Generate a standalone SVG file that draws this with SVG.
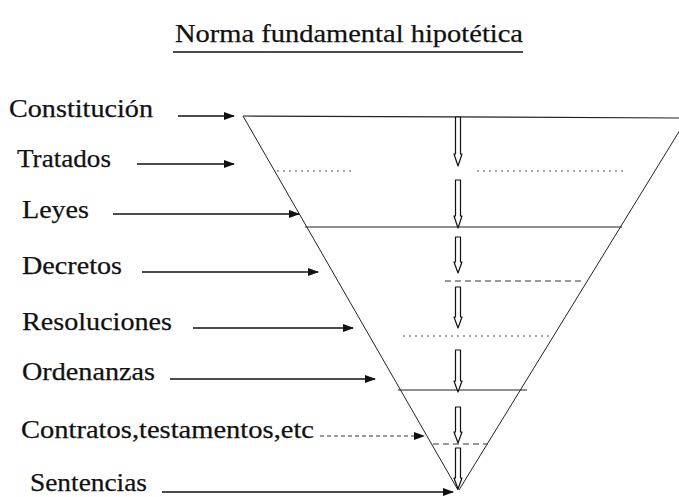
<svg xmlns="http://www.w3.org/2000/svg" width="679" height="497" viewBox="0 0 679 497">
<style>
text{font-family:"Liberation Serif","Times New Roman",serif;font-size:26px;fill:#111;stroke:#111;stroke-width:0.25}
.edge{stroke:#222;stroke-width:1;fill:none}
.lvl{stroke:#222;stroke-width:1.2;fill:none}
.dot{stroke:#555;stroke-width:1;fill:none;stroke-dasharray:2 4}
.dash{stroke:#333;stroke-width:1;fill:none;stroke-dasharray:6 4}
.ptr{stroke:#111;stroke-width:1.3;fill:none;marker-end:url(#ah)}
.ptrd{stroke:#333;stroke-width:1.1;fill:none;stroke-dasharray:4 3;marker-end:url(#ah)}
.blk{fill:#fff;stroke:#111;stroke-width:1.2;stroke-linejoin:round}
</style>
<defs>
<marker id="ah" markerUnits="userSpaceOnUse" markerWidth="11" markerHeight="8" refX="10" refY="4" orient="auto">
<path d="M0,0 L11,4 L0,8 Z" fill="#111"/>
</marker>
</defs>
<rect width="679" height="497" fill="#fff"/>
<g id="title">
<text x="175" y="42" textLength="348" lengthAdjust="spacingAndGlyphs">Norma fundamental hipotética</text>
<line x1="173" y1="52" x2="523" y2="52" stroke="#111" stroke-width="1.5"/>
</g>
<g id="pyramid">
<line class="lvl" x1="243" y1="116" x2="679" y2="118"/>
<line class="edge" x1="243" y1="116" x2="458" y2="490"/>
<line class="edge" x1="680" y1="130" x2="459" y2="490"/>
<line class="dot" x1="277" y1="171" x2="353" y2="171"/>
<line class="dot" x1="477" y1="171" x2="627" y2="171"/>
<line class="lvl" x1="305" y1="227" x2="622" y2="227"/>
<line class="dash" x1="445" y1="281" x2="584" y2="281"/>
<line class="dot" x1="403" y1="336" x2="550" y2="336"/>
<line class="lvl" x1="398" y1="390" x2="527" y2="390"/>
<line class="dash" x1="433" y1="444" x2="488" y2="444"/>
</g>
<g id="flow">
<path class="blk" d="M455.5,117 L460.5,117 L460.5,154 L462,154 L458,166 L454,154 L455.5,154 Z"/>
<path class="blk" d="M455.5,180 L460.5,180 L460.5,216 L462,216 L458,228 L454,216 L455.5,216 Z"/>
<path class="blk" d="M455.5,237 L460.5,237 L460.5,262 L462,262 L458,273 L454,262 L455.5,262 Z"/>
<path class="blk" d="M455.5,287 L460.5,287 L460.5,317 L462,317 L458,328 L454,317 L455.5,317 Z"/>
<path class="blk" d="M455.5,350 L460.5,350 L460.5,381 L462,381 L458,392 L454,381 L455.5,381 Z"/>
<path class="blk" d="M455.5,407 L460.5,407 L460.5,432 L462,432 L458,443 L454,432 L455.5,432 Z"/>
<path class="blk" d="M455.5,448 L460.5,448 L460.5,478 L462,478 L458,489 L454,478 L455.5,478 Z"/>
</g>
<g id="n-constitucion"><text x="9" y="117" textLength="144" lengthAdjust="spacingAndGlyphs">Constitución</text></g>
<g id="n-tratados"><text x="17" y="167" textLength="94" lengthAdjust="spacingAndGlyphs">Tratados</text></g>
<g id="n-leyes"><text x="22" y="218" textLength="67" lengthAdjust="spacingAndGlyphs">Leyes</text></g>
<g id="n-decretos"><text x="22" y="274" textLength="100" lengthAdjust="spacingAndGlyphs">Decretos</text></g>
<g id="n-resoluciones"><text x="22" y="330" textLength="150" lengthAdjust="spacingAndGlyphs">Resoluciones</text></g>
<g id="n-ordenanzas"><text x="22" y="380" textLength="133" lengthAdjust="spacingAndGlyphs">Ordenanzas</text></g>
<g id="n-contratos"><text x="21" y="438" textLength="293" lengthAdjust="spacingAndGlyphs">Contratos,testamentos,etc</text></g>
<g id="n-sentencias"><text x="30" y="491" textLength="117" lengthAdjust="spacingAndGlyphs">Sentencias</text></g>
<g id="connectors">
<line class="ptr" x1="178" y1="116" x2="234" y2="116"/>
<line class="ptr" x1="137" y1="164" x2="234" y2="164"/>
<line class="ptr" x1="113" y1="214" x2="299" y2="214"/>
<line class="ptr" x1="142" y1="272" x2="318" y2="272"/>
<line class="ptr" x1="193" y1="328" x2="353" y2="328"/>
<line class="ptr" x1="170" y1="379" x2="375" y2="379"/>
<line class="ptrd" x1="320" y1="436" x2="424" y2="436"/>
<line class="ptr" x1="162" y1="492" x2="453" y2="492"/>
</g>
</svg>
